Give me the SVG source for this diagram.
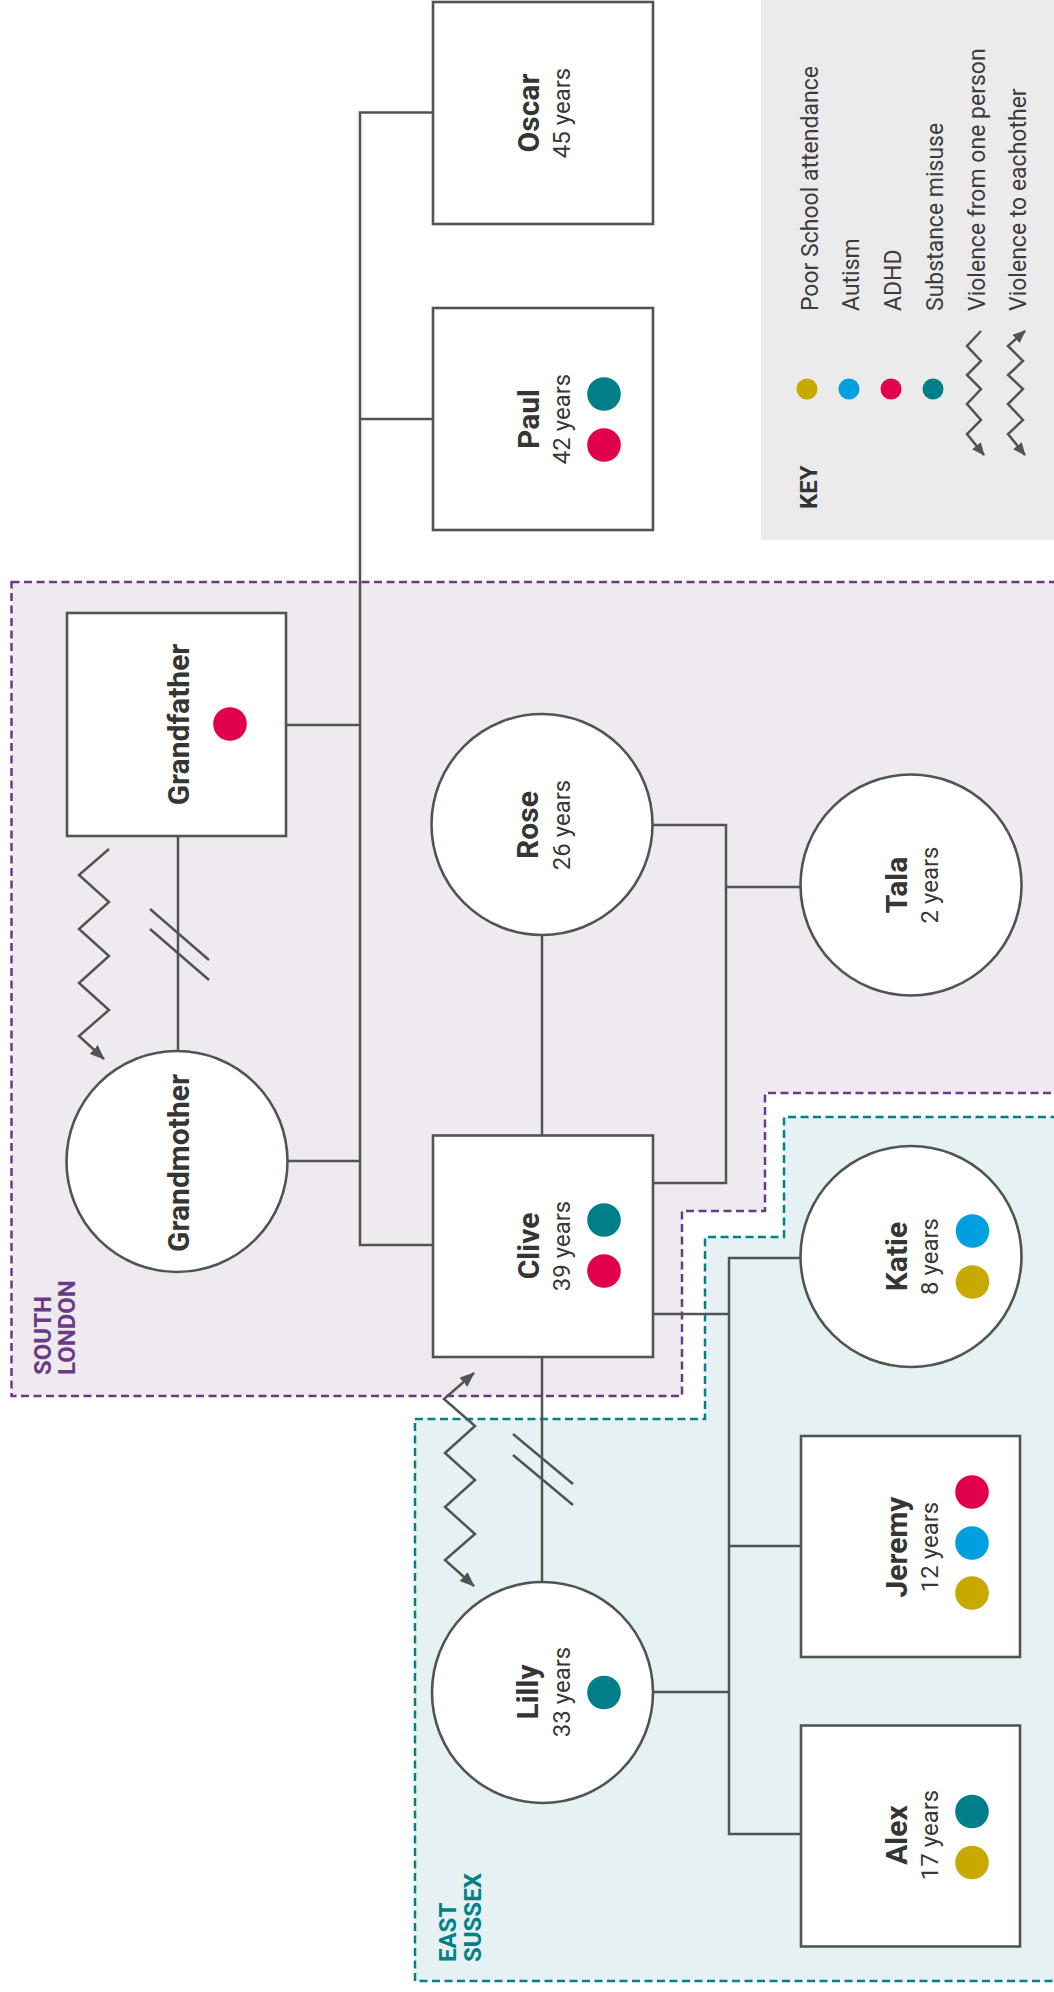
<svg xmlns="http://www.w3.org/2000/svg" width="1054" height="1992" viewBox="0 0 1054 1992">
<defs>
<marker id="arr" markerUnits="userSpaceOnUse" markerWidth="15" markerHeight="12" viewBox="0 0 15 12" refX="14" refY="6" orient="auto-start-reverse"><path d="M0,0 L15,6 L0,12 z" fill="#4f5651"/></marker>
<marker id="arrS" markerUnits="userSpaceOnUse" markerWidth="13" markerHeight="11" viewBox="0 0 13 11" refX="12" refY="5.5" orient="auto-start-reverse"><path d="M0,0 L13,5.5 L0,11 z" fill="#4f5651"/></marker>
</defs>
<style>
.nd{fill:#fff;stroke:#4f5651;stroke-width:2.6}
.cn{fill:none;stroke:#4f5651;stroke-width:2.5}
.zz{fill:none;stroke:#4f5651;stroke-width:2.5;stroke-linejoin:miter}
.name{font-family:Roboto,'Liberation Sans',sans-serif;font-weight:bold;font-size:30px;fill:#353535;text-anchor:middle}
.age{font-family:Roboto,'Liberation Sans',sans-serif;font-size:24px;fill:#383838;text-anchor:middle}
.kt{font-family:Roboto,'Liberation Sans',sans-serif;font-size:23px;fill:#3c3c3c}
.kh{font-family:Roboto,'Liberation Sans',sans-serif;font-size:24px;font-weight:bold;fill:#333}
.reg{font-family:Roboto,'Liberation Sans',sans-serif;font-size:24px;font-weight:bold}
.teal{fill:#007f89}.red{fill:#e0004d}.blue{fill:#009fe0}.yel{fill:#c8a900}
</style>
<rect width="1054" height="1992" fill="#fff"/>
<g id="region-south-london">
<path d="M11.5,582 H1057 V1093 H765 V1211 H682 V1396 H11.5 Z" fill="#efeaf0" stroke="#6b3a86" stroke-width="2.5" stroke-dasharray="8 4.5"/>
<text class="reg" fill="#6b3a86" transform="translate(51,1375) rotate(-90)">SOUTH</text>
<text class="reg" fill="#6b3a86" transform="translate(75,1375) rotate(-90)">LONDON</text>
</g>
<g id="region-east-sussex">
<path d="M415,1419 H705 V1237 H784 V1117 H1057 V1981 H415 Z" fill="#e6f1f3" stroke="#00818a" stroke-width="2.5" stroke-dasharray="8 4.5"/>
<text class="reg" fill="#00818a" transform="translate(455.5,1962) rotate(-90)">EAST</text>
<text class="reg" fill="#00818a" transform="translate(480.5,1962) rotate(-90)">SUSSEX</text>
</g>
<g id="key">
<rect x="761" y="-2" width="296" height="542" fill="#ebebeb"/>
<text class="kh" transform="translate(817,509) rotate(-90)">KEY</text>
<circle cx="807" cy="389" r="10.5" class="yel"/>
<circle cx="849" cy="389" r="10.5" class="blue"/>
<circle cx="891" cy="389" r="10.5" class="red"/>
<circle cx="933" cy="389" r="10.5" class="teal"/>
<polyline class="zz" points="981,331 967,346 981,361 967,375 981,389 967,404 981,420 967,434 984,455" marker-end="url(#arrS)"/>
<polyline class="zz" points="1025,331 1008,346 1023,361 1008,375 1023,389 1008,404 1023,420 1008,434 1025,455" marker-start="url(#arrS)" marker-end="url(#arrS)"/>
<text class="kt" transform="translate(817.5,311) rotate(-90)">Poor School attendance</text>
<text class="kt" transform="translate(859,311) rotate(-90)">Autism</text>
<text class="kt" transform="translate(901,311) rotate(-90)">ADHD</text>
<text class="kt" transform="translate(943,311) rotate(-90)">Substance misuse</text>
<text class="kt" transform="translate(984.5,311) rotate(-90)">Violence from one person</text>
<text class="kt" transform="translate(1026,311) rotate(-90)">Violence to eachother</text>
</g>
<g id="connectors">
<path class="cn" d="M433,112.5 H360 V1245 H433"/>
<path class="cn" d="M360,419 H433"/>
<path class="cn" d="M286,725 H360"/>
<path class="cn" d="M287.5,1161 H360"/>
<path class="cn" d="M178,836 V1051"/>
<path class="cn" d="M150,909 L209,960 M150,929 L209,980"/>
<path class="cn" d="M542,935 V1135.5"/>
<path class="cn" d="M652.5,825 H726 V1183 H653"/>
<path class="cn" d="M726,887 H800.5"/>
<path class="cn" d="M653,1314 H729"/>
<path class="cn" d="M800.5,1258 H729 V1834 H801"/>
<path class="cn" d="M729,1546 H801"/>
<path class="cn" d="M653,1692 H729"/>
<path class="cn" d="M542,1357 V1582"/>
<path class="cn" d="M513,1434 L573,1484 M513,1455 L573,1505"/>
<polyline class="zz" points="109,849 79,875 109,902 79,929 109,956 79,983 109,1010 79,1036 104,1059" marker-end="url(#arr)"/>
<polyline class="zz" points="474,1373 444,1399 475,1426 445,1453 475,1480 445,1507 475,1534 445,1560 474,1586" marker-start="url(#arr)" marker-end="url(#arr)"/>
</g>
<g id="oscar">
<rect class="nd" x="433" y="2" width="220" height="222"/>
<text class="name" transform="translate(539,113) rotate(-90)">Oscar</text>
<text class="age" transform="translate(570,113) rotate(-90)">45 years</text>
</g>
<g id="paul">
<rect class="nd" x="433" y="308" width="220" height="222"/>
<text class="name" transform="translate(539,419) rotate(-90)">Paul</text>
<text class="age" transform="translate(570,419) rotate(-90)">42 years</text>
<circle cx="604" cy="394" r="16.8" class="teal"/>
<circle cx="604" cy="445" r="16.8" class="red"/>
</g>
<g id="grandfather">
<rect class="nd" x="67" y="613" width="219" height="223"/>
<text class="name" transform="translate(189,724.5) rotate(-90)">Grandfather</text>
<circle cx="230" cy="724" r="16.8" class="red"/>
</g>
<g id="grandmother">
<circle class="nd" cx="177" cy="1161.5" r="110.5"/>
<text class="name" transform="translate(189,1163) rotate(-90)">Grandmother</text>
</g>
<g id="rose">
<circle class="nd" cx="542" cy="824.5" r="110.5"/>
<text class="name" transform="translate(538,825) rotate(-90)">Rose</text>
<text class="age" transform="translate(570,825) rotate(-90)">26 years</text>
</g>
<g id="tala">
<circle class="nd" cx="911" cy="885" r="110.5"/>
<text class="name" transform="translate(907,885) rotate(-90)">Tala</text>
<text class="age" transform="translate(938,885) rotate(-90)">2 years</text>
</g>
<g id="clive">
<rect class="nd" x="433" y="1135.5" width="220" height="221.5"/>
<text class="name" transform="translate(539,1246) rotate(-90)">Clive</text>
<text class="age" transform="translate(570,1246) rotate(-90)">39 years</text>
<circle cx="604" cy="1220" r="16.8" class="teal"/>
<circle cx="604" cy="1271" r="16.8" class="red"/>
</g>
<g id="katie">
<circle class="nd" cx="911" cy="1256.5" r="110.5"/>
<text class="name" transform="translate(907,1256.5) rotate(-90)">Katie</text>
<text class="age" transform="translate(938,1256.5) rotate(-90)">8 years</text>
<circle cx="972.5" cy="1231" r="16.8" class="blue"/>
<circle cx="972.5" cy="1282" r="16.8" class="yel"/>
</g>
<g id="jeremy">
<rect class="nd" x="801" y="1436" width="219" height="221"/>
<text class="name" transform="translate(907,1547) rotate(-90)">Jeremy</text>
<text class="age" transform="translate(938,1547) rotate(-90)">12 years</text>
<circle cx="972" cy="1492" r="16.8" class="red"/>
<circle cx="972" cy="1543" r="16.8" class="blue"/>
<circle cx="972" cy="1593" r="16.8" class="yel"/>
</g>
<g id="lilly">
<circle class="nd" cx="542.5" cy="1692.5" r="110.5"/>
<text class="name" transform="translate(538,1692) rotate(-90)">Lilly</text>
<text class="age" transform="translate(570,1692) rotate(-90)">33 years</text>
<circle cx="604" cy="1692.5" r="16.8" class="teal"/>
</g>
<g id="alex">
<rect class="nd" x="801" y="1725.5" width="219" height="221"/>
<text class="name" transform="translate(907,1835) rotate(-90)">Alex</text>
<text class="age" transform="translate(938,1835) rotate(-90)">17 years</text>
<circle cx="972" cy="1811.5" r="16.8" class="teal"/>
<circle cx="972" cy="1862.5" r="16.8" class="yel"/>
</g>
</svg>
